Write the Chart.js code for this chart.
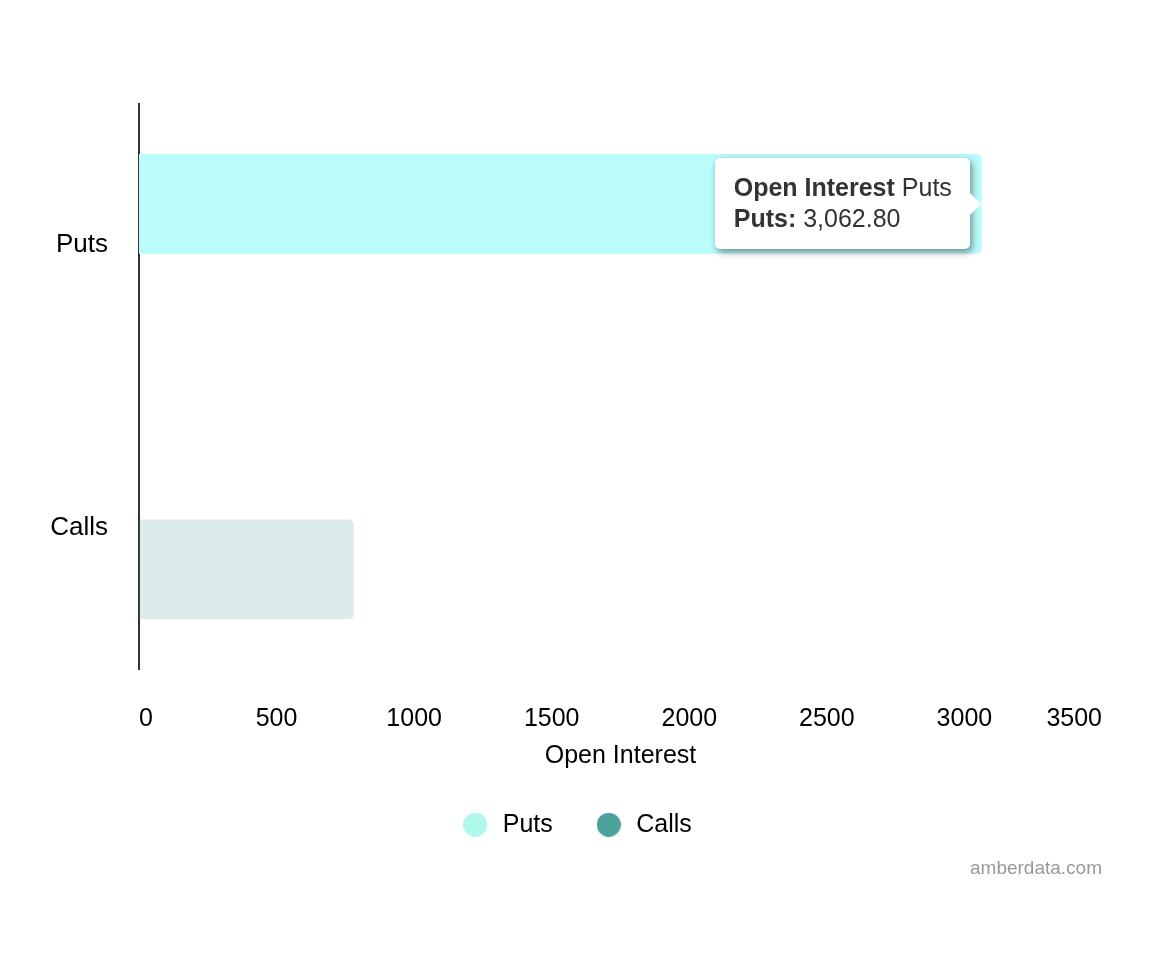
<!DOCTYPE html>
<html>
<head>
<meta charset="utf-8">
<script src="https://cdn.jsdelivr.net/npm/chart.js@4/dist/chart.umd.min.js"></script>
<style>
html,body{margin:0;padding:0;background:#fff;}
#wrap{position:relative;width:1152px;height:968px;}
#tip{position:absolute;display:none;background:#fff;border-radius:5px;
 box-shadow:2px 3px 7px rgba(0,0,0,0.45);font-family:"Liberation Sans",Arial,sans-serif;
 font-size:25px;color:#333;line-height:31px;padding:14px 18px 15px 19px;white-space:nowrap;box-sizing:border-box;}
#tip:after{content:"";position:absolute;right:-11px;top:50%;margin-top:-11px;
 border-top:11px solid transparent;border-bottom:11px solid transparent;border-left:11px solid #fff;}
</style>
</head>
<body>
<div id="wrap">
<canvas id="c" width="1152" height="968"></canvas>
<div id="tip"></div>
</div>
<script>
const categories = ["Puts", "Calls"];
const seriesNames = ["Puts", "Calls"];
const putsValues = [3062.8, null];
const callsValues = [null, 781];
const xTicks = [0, 500, 1000, 1500, 2000, 2500, 3000, 3500];
const axisTitle = "Open Interest";
const watermark = "amberdata.com";

const legendColors = ["#aef8ec", "#4aa29a"];
const barColors = ["#bafcfc", "rgba(74,162,154,0.2)"];

const FONT = "'Liberation Sans', Arial, sans-serif";

function circleImg(color) {
  const c = document.createElement('canvas');
  c.width = 24; c.height = 24;
  const g = c.getContext('2d');
  g.fillStyle = color;
  g.beginPath(); g.arc(12, 12, 12, 0, Math.PI * 2); g.fill();
  return c;
}
const legendDots = legendColors.map(circleImg);

const ctx = document.getElementById('c');
const tipEl = document.getElementById('tip');

function externalTooltip(context) {
  const t = context.tooltip;
  if (t.opacity === 0 || !t.dataPoints || !t.dataPoints.length) { tipEl.style.display = 'none'; return; }
  const dp = t.dataPoints[0];
  const name = dp.dataset.label;
  const cat = dp.label;
  const val = dp.parsed.x.toLocaleString('en-US', {minimumFractionDigits: 2, maximumFractionDigits: 2});
  tipEl.innerHTML = '<b>' + axisTitle + '</b> ' + cat + '<br><b>' + name + ':</b> ' + val;
  tipEl.style.display = 'block';
  const w = tipEl.offsetWidth, h = tipEl.offsetHeight;
  tipEl.style.left = (t.caretX - 12 - w) + 'px';
  tipEl.style.top = (t.caretY - h / 2) + 'px';
}

const chart = new Chart(ctx, {
  type: 'bar',
  data: {
    labels: categories,
    datasets: [
      { label: seriesNames[0], data: putsValues, backgroundColor: barColors[0], hoverBackgroundColor: barColors[0], borderRadius: 5, borderSkipped: 'start' },
      { label: seriesNames[1], data: callsValues, backgroundColor: barColors[1], hoverBackgroundColor: barColors[1], borderRadius: 5, borderSkipped: 'start' }
    ]
  },
  options: {
    indexAxis: 'y',
    responsive: false,
    animation: false,
    devicePixelRatio: 1,
    categoryPercentage: 0.5866,
    barPercentage: 1.2048,
    layout: { padding: { top: 104, right: 50, left: 50, bottom: 88 } },
    scales: {
      y: {
        afterFit: s => { s.width = 89; },
        ticks: {
          color: '#000',
          font: { family: FONT, size: 26 },
          padding: 31
        },
        grid: { display: false, drawTicks: false },
        border: { display: true, color: '#333', width: 2 }
      },
      x: {
        type: 'linear',
        min: xTicks[0],
        max: xTicks[xTicks.length - 1],
        afterBuildTicks: s => { s.ticks = xTicks.map(v => ({value: v})); },
        afterFit: s => { s.height -= 30; },
        ticks: {
          callback: v => String(v),
          color: '#000',
          font: { family: FONT, size: 25 },
          padding: 27,
          align: 'inner',
          maxRotation: 0
        },
        grid: { display: false },
        border: { display: false },
        title: {
          display: true,
          text: axisTitle,
          color: '#000',
          font: { family: FONT, size: 25 },
          padding: { top: 10, bottom: 0 }
        }
      }
    },
    plugins: {
      legend: {
        position: 'bottom',
        labels: {
          usePointStyle: true,
          pointStyleWidth: 30,
          boxHeight: 17,
          padding: 41,
          color: '#000',
          font: { family: FONT, size: 25 },
          generateLabels: chart => chart.data.datasets.map((d, i) => ({
            text: d.label, fillStyle: legendColors[i], strokeStyle: legendColors[i],
            lineWidth: 0, pointStyle: legendDots[i], datasetIndex: i, hidden: false, fontColor: '#000'
          }))
        }
      },
      title: {
        display: true,
        position: 'bottom',
        align: 'end',
        text: watermark,
        color: '#999',
        font: { family: FONT, size: 19, weight: 'normal' },
        padding: { top: 10, bottom: 0 }
      },
      tooltip: {
        enabled: false,
        external: externalTooltip
      }
    }
  }
});

const active = [{datasetIndex: 0, index: 0}];
const el = chart.getDatasetMeta(0).data[0];
chart.setActiveElements(active);
chart.tooltip.setActiveElements(active, {x: el.x, y: el.y});
chart.update();
</script>
</body>
</html>
